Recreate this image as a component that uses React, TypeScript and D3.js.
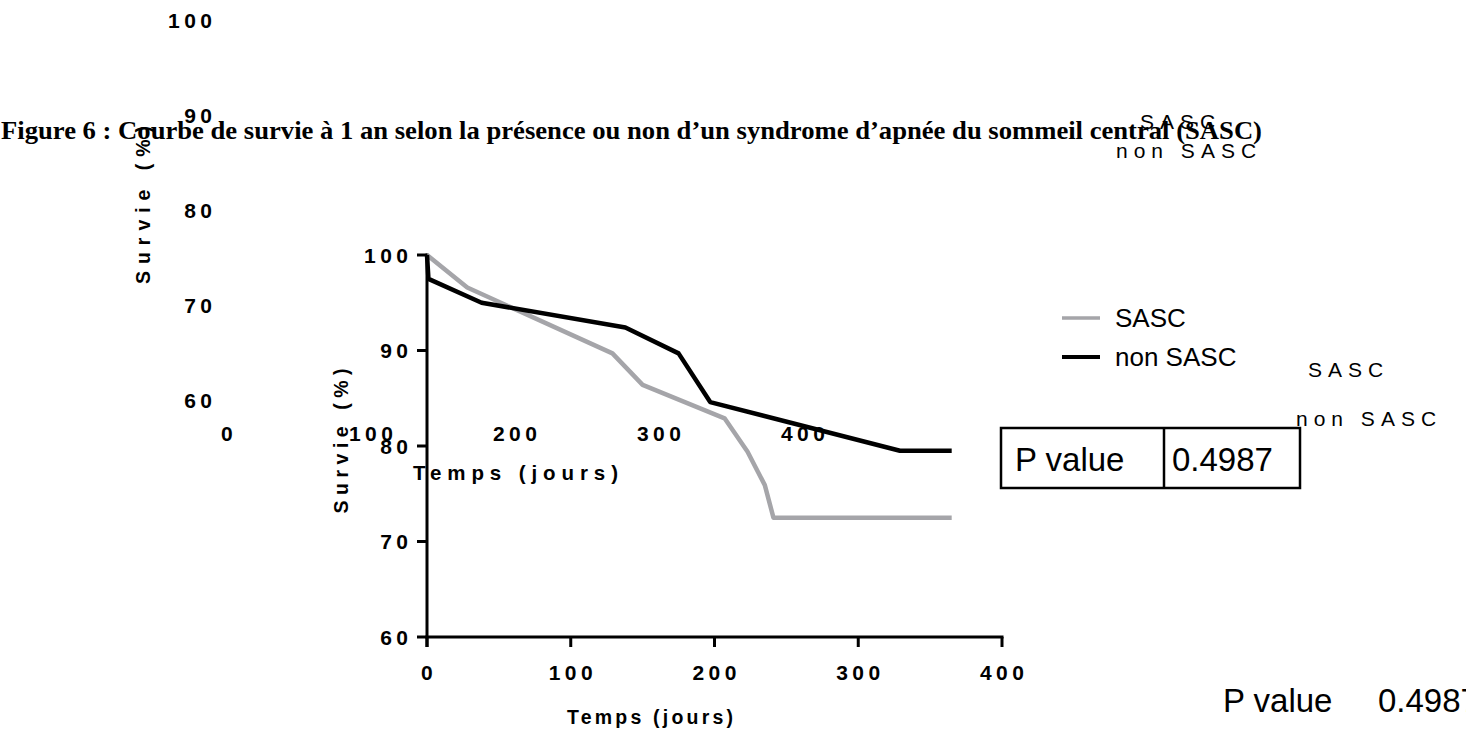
import React from 'react';
import * as d3 from 'd3';

// ---- data ----
const sascDays = [0, 28, 129, 150, 207, 223, 235, 241, 365];
const sascSurvival = [100, 96.6, 89.7, 86.4, 82.9, 79.4, 75.9, 72.5, 72.5];
const nonSascDays = [0, 1, 38, 138, 175, 197, 329, 365];
const nonSascSurvival = [100, 97.5, 95.0, 92.4, 89.7, 84.6, 79.5, 79.5];
const xTicks = [0, 100, 200, 300, 400];
const yTicks = [60, 70, 80, 90, 100];
const seriesNames = ['SASC', 'non SASC'];
const seriesColors = ['#a5a5a9', '#000000'];
const pValueLabel = 'P value';
const pValueText = '0.4987';
const titleText =
  'Figure 6 : Courbe de survie à 1 an selon la présence ou non d’un syndrome d’apnée du sommeil central (SASC)';
const xTitle = 'Temps (jours)';
const yTitle = 'Survie (%)';

const SANS = '"Liberation Sans", Arial, Helvetica, sans-serif';
const SERIF = '"Liberation Serif", "Times New Roman", serif';

export default function App() {
  const x = d3.scaleLinear().domain([0, 400]).range([427, 1002]);
  const y = d3.scaleLinear().domain([60, 100]).range([637, 255]);
  // displaced duplicate (ghost) axis labels present in the reference
  const gx = d3.scaleLinear().domain([0, 400]).range([227, 803]);
  const gy = d3.scaleLinear().domain([60, 100]).range([400, 20]);

  const line = d3
    .line<[number, number]>()
    .x((d) => x(d[0]))
    .y((d) => y(d[1]));
  const sascPts = sascDays.map((d, i) => [d, sascSurvival[i]] as [number, number]);
  const nonPts = nonSascDays.map((d, i) => [d, nonSascSurvival[i]] as [number, number]);

  const tickFont = { fontFamily: SANS, fontWeight: 700, fontSize: 21, letterSpacing: 4.5 } as const;
  const axisFont = { fontFamily: SANS, fontWeight: 700, fontSize: 19.5 } as const;
  const ghostLegendFont = { fontFamily: SANS, fontSize: 21, letterSpacing: 6 } as const;

  return (
    <svg
      width={1466}
      height={734}
      style={{ position: 'absolute', left: 0, top: 0, background: '#fff' }}
    >
      <rect width={1466} height={734} fill="#fff" />

      {/* ghost y tick labels */}
      {yTicks.map((t) => (
        <text key={'gy' + t} x={216.5} y={gy(t)} dy="0.36em" textAnchor="end" {...tickFont}>
          {t}
        </text>
      ))}
      {/* ghost x tick labels */}
      {xTicks.map((t) => (
        <text key={'gx' + t} x={gx(t) + 2.2} y={441} textAnchor="middle" {...tickFont}>
          {t}
        </text>
      ))}
      <text x={413} y={480} {...axisFont} fontSize={20.5} textLength={205} lengthAdjust="spacing">
        {xTitle}
      </text>
      <text
        transform={`translate(${150},${205}) rotate(-90)`}
        textAnchor="middle"
        {...axisFont}
        textLength={158}
        lengthAdjust="spacing"
      >
        {yTitle}
      </text>

      {/* title */}
      <text x={1} y={139} fontFamily={SERIF} fontWeight={700} fontSize={26} textLength={1261} lengthAdjust="spacingAndGlyphs">
        {titleText}
      </text>

      {/* ghost legend labels */}
      <text x={1140} y={129} {...ghostLegendFont}>{seriesNames[0]}</text>
      <text x={1116} y={158} {...ghostLegendFont}>{seriesNames[1]}</text>
      <text x={1308} y={377} {...ghostLegendFont}>{seriesNames[0]}</text>
      <text x={1296} y={426} {...ghostLegendFont}>{seriesNames[1]}</text>

      {/* ghost p value */}
      <text x={1223} y={712} fontFamily={SANS} fontSize={33}>{pValueLabel}</text>
      <text x={1378} y={712} fontFamily={SANS} fontSize={33}>{pValueText}</text>

      {/* axes */}
      <g stroke="#000" strokeWidth={3} fill="none">
        <line x1={x(0)} x2={x(0)} y1={y(100) - 1.5} y2={y(60) + 10} />
        <line x1={x(0) - 1.5} x2={x(400) + 1.5} y1={y(60)} y2={y(60)} />
        {yTicks.map((t) => (
          <line key={'yt' + t} x1={x(0) - 10} x2={x(0)} y1={y(t)} y2={y(t)} />
        ))}
        {xTicks.map((t) => (
          <line key={'xt' + t} x1={x(t)} x2={x(t)} y1={y(60)} y2={y(60) + 10} />
        ))}
      </g>
      {yTicks.map((t) => (
        <text key={'yl' + t} x={412.5} y={y(t)} dy="0.36em" textAnchor="end" {...tickFont}>
          {t}
        </text>
      ))}
      {xTicks.map((t) => (
        <text key={'xl' + t} x={x(t) + 2.2} y={680} textAnchor="middle" {...tickFont}>
          {t}
        </text>
      ))}
      <text x={567} y={724} {...axisFont} textLength={166} lengthAdjust="spacing">
        {xTitle}
      </text>
      <text
        transform={`translate(${348},${441}) rotate(-90)`}
        textAnchor="middle"
        {...axisFont}
        textLength={145}
        lengthAdjust="spacing"
      >
        {yTitle}
      </text>

      {/* curves */}
      <path d={line(sascPts) || ''} fill="none" stroke={seriesColors[0]} strokeWidth={4.5} strokeLinejoin="round" />
      <path d={line(nonPts) || ''} fill="none" stroke={seriesColors[1]} strokeWidth={4.5} strokeLinejoin="round" />

      {/* legend */}
      {seriesNames.map((n, i) => (
        <g key={n}>
          <line x1={1062} x2={1100} y1={318 + i * 39} y2={318 + i * 39} stroke={seriesColors[i]} strokeWidth={i === 0 ? 3.5 : 4} />
          <text x={1115} y={327 + i * 39} fontFamily={SANS} fontSize={26}>{n}</text>
        </g>
      ))}

      {/* p value table */}
      <g fill="none" stroke="#000" strokeWidth={2.5}>
        <rect x={1001} y={428} width={299} height={60} />
        <line x1={1164} x2={1164} y1={428} y2={488} />
      </g>
      <text x={1015} y={471} fontFamily={SANS} fontSize={33}>{pValueLabel}</text>
      <text x={1172} y={471} fontFamily={SANS} fontSize={33}>{pValueText}</text>
    </svg>
  );
}
